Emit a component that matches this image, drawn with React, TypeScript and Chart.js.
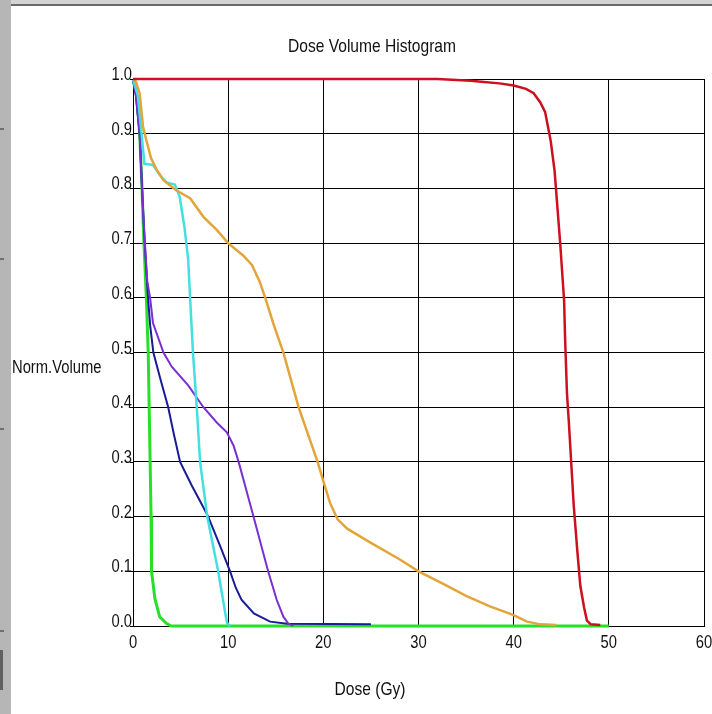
import React, { useEffect, useRef } from 'react';
import { Chart, registerables } from 'chart.js';

Chart.register(...registerables);

const chartTitle = 'Dose Volume Histogram';
const xTitle = 'Dose (Gy)';
const yTitle = 'Norm.Volume';
const xTickValues = [0, 10, 20, 30, 40, 50, 60];
const yTickValues = [0, 0.1, 0.2, 0.3, 0.4, 0.5, 0.6, 0.7, 0.8, 0.9, 1.0];

const redDose = [0, 32, 35.5, 36.6, 38.5, 40, 41.3, 42.1, 42.8, 43.3, 43.6, 43.9, 44.3, 44.6, 44.9, 45.3, 45.4, 45.6, 45.8, 45.96, 46.3, 46.7, 47.0, 47.4, 47.7, 48.1, 49.1];
const redVol = [1.0, 1.0, 0.997, 0.995, 0.992, 0.988, 0.982, 0.974, 0.957, 0.94, 0.913, 0.886, 0.832, 0.765, 0.697, 0.595, 0.528, 0.426, 0.372, 0.325, 0.223, 0.135, 0.074, 0.034, 0.01, 0.003, 0.002];

const orangeDose = [0, 0.3, 0.7, 1.05, 1.4, 1.9, 2.5, 3.2, 4.5, 6, 7.4, 8.8, 10, 11.6, 12.5, 13.3, 13.9, 14.8, 15.8, 16.6, 17.4, 18.4, 19.4, 20, 20.7, 21.5, 22.5, 25, 28, 30, 32.5, 35, 37.5, 40, 41.4, 42.8, 44.5];
const orangeVol = [1.0, 0.995, 0.974, 0.913, 0.888, 0.855, 0.834, 0.815, 0.797, 0.782, 0.748, 0.724, 0.70, 0.677, 0.66, 0.63, 0.60, 0.55, 0.50, 0.45, 0.40, 0.35, 0.30, 0.265, 0.225, 0.195, 0.178, 0.152, 0.122, 0.10, 0.078, 0.055, 0.036, 0.02, 0.008, 0.003, 0.002];

const cyanDose = [0, 0.5, 0.9, 1.2, 2.1, 2.8, 3.5, 4.4, 4.9, 5.4, 5.8, 6.0, 6.3, 6.7, 7.05, 7.8, 8.95, 9.7, 9.9, 10.2];
const cyanVol = [1.0, 0.97, 0.9, 0.845, 0.843, 0.825, 0.811, 0.807, 0.785, 0.73, 0.67, 0.6, 0.5, 0.4, 0.3, 0.2, 0.1, 0.023, 0.005, 0];

const purpleDose = [0, 0.3, 0.7, 1.0, 1.25, 1.5, 1.8, 2.1, 3.2, 4.07, 5.8, 7.4, 8.8, 9.86, 10.56, 11.1, 12.66, 14.2, 15.1, 15.8, 16.3, 16.8];
const purpleVol = [1.0, 0.97, 0.9, 0.78, 0.7, 0.63, 0.6, 0.554, 0.5, 0.474, 0.44, 0.4, 0.372, 0.354, 0.33, 0.3, 0.2, 0.1, 0.048, 0.017, 0.005, 0];

const navyDose = [0, 0.3, 0.7, 1.0, 1.23, 1.58, 1.8, 2.14, 2.9, 3.7, 4.3, 4.95, 6.2, 7.0, 7.9, 9.16, 10.2, 10.8, 11.4, 12.7, 14.4, 16.2, 25];
const navyVol = [1.0, 0.97, 0.9, 0.78, 0.7, 0.6, 0.55, 0.5, 0.45, 0.4, 0.35, 0.3, 0.256, 0.23, 0.2, 0.146, 0.1, 0.07, 0.048, 0.023, 0.008, 0.004, 0.003];

const greenDose = [0, 0.4, 0.7, 0.95, 1.15, 1.4, 1.6, 1.7, 1.8, 1.9, 1.95, 2.3, 2.8, 3.5, 4.0, 50];
const greenVol = [1.0, 0.97, 0.9, 0.8, 0.7, 0.6, 0.5, 0.4, 0.3, 0.2, 0.1, 0.05, 0.017, 0.005, 0, 0];

const seriesColors = ['#cc1020', '#e3a43a', '#44e0e0', '#7a30d0', '#1a1a9a', '#28e028'];

const FONT = '"Liberation Sans", Arial, sans-serif';
const NARROW = 0.82;

const toPoints = (xs: number[], ys: number[]) => xs.map((x, i) => ({ x, y: ys[i] }));

function narrowText(ctx: CanvasRenderingContext2D, text: string, x: number, y: number, size: number, align: CanvasTextAlign) {
  ctx.save();
  ctx.translate(x, y);
  ctx.scale(NARROW, 1);
  ctx.font = `${size}px ${FONT}`;
  ctx.textAlign = align;
  ctx.textBaseline = 'alphabetic';
  ctx.fillText(text, 0, 0);
  ctx.restore();
}

const textPlugin = {
  id: 'dvhText',
  afterDraw(chart: any) {
    const ctx = chart.ctx as CanvasRenderingContext2D;
    const xs = chart.scales.x;
    const ys = chart.scales.y;
    const area = chart.chartArea;
    ctx.save();
    ctx.fillStyle = '#111';
    ctx.strokeStyle = '#000';
    ctx.lineWidth = 1;
    narrowText(ctx, chartTitle, 372, 52, 19, 'center');
    narrowText(ctx, xTitle, 370, 695, 19, 'center');
    narrowText(ctx, yTitle, 12, 373, 18, 'left');
    yTickValues.forEach((v) => {
      const py = Math.round(ys.getPixelForValue(v));
      ctx.beginPath();
      ctx.moveTo(area.left - 3, py + 0.5);
      ctx.lineTo(area.left, py + 0.5);
      ctx.stroke();
      narrowText(ctx, v.toFixed(1), area.left - 1, py + 1, 18, 'right');
    });
    xTickValues.forEach((v) => {
      const px = xs.getPixelForValue(v);
      narrowText(ctx, String(v), px, area.bottom + 22, 18, 'center');
    });
    ctx.restore();
  },
};

export default function App() {
  const ref = useRef<HTMLCanvasElement>(null);
  useEffect(() => {
    if (!ref.current) return;
    const mk = (label: string, xs: number[], ys: number[], color: string, width: number) => ({
      label,
      data: toPoints(xs, ys),
      borderColor: color,
      backgroundColor: color,
      borderWidth: width,
      pointRadius: 0,
      showLine: true,
      tension: 0,
      fill: false,
      clip: 4,
    });
    const chart = new Chart(ref.current, {
      type: 'scatter',
      data: {
        datasets: [
          mk('PTV', redDose, redVol, seriesColors[0], 2.5),
          mk('Orange', orangeDose, orangeVol, seriesColors[1], 2.5),
          mk('Cyan', cyanDose, cyanVol, seriesColors[2], 2.5),
          mk('Purple', purpleDose, purpleVol, seriesColors[3], 2),
          mk('Navy', navyDose, navyVol, seriesColors[4], 2),
          mk('Green', greenDose, greenVol, seriesColors[5], 3),
        ],
      },
      options: {
        responsive: false,
        animation: false,
        devicePixelRatio: 1,
        layout: { padding: { top: 79, left: 0, right: 8, bottom: 58 } },
        plugins: {
          legend: { display: false },
          tooltip: { enabled: false },
          title: { display: false },
        },
        scales: {
          x: {
            type: 'linear',
            min: 0,
            max: 60,
            afterBuildTicks: (s: any) => { s.ticks = xTickValues.map((v) => ({ value: v })); },
            afterFit: (s: any) => { s.height = 30; },
            grid: { color: '#000', lineWidth: 1, drawTicks: false },
            border: { display: true, color: '#000', width: 1 },
            ticks: { display: false },
          },
          y: {
            type: 'linear',
            min: 0,
            max: 1,
            afterBuildTicks: (s: any) => { s.ticks = yTickValues.map((v) => ({ value: v })); },
            afterFit: (s: any) => { s.width = 133; },
            grid: { color: '#000', lineWidth: 1, drawTicks: false },
            border: { display: true, color: '#000', width: 1 },
            ticks: { display: false },
          },
        },
      },
      plugins: [textPlugin],
    });
    return () => chart.destroy();
  }, []);

  const marks = [128, 258, 428, 630];
  return (
    <div style={{ position: 'fixed', left: 0, top: 0, width: 712, height: 714, background: '#fff', overflow: 'hidden' }}>
      <div style={{ position: 'absolute', left: 0, top: 0, width: 11, height: 714, background: '#b6b6b6' }} />
      {marks.map((m) => (
        <div key={m} style={{ position: 'absolute', left: 0, top: m, width: 4, height: 2, background: '#707070' }} />
      ))}
      <div style={{ position: 'absolute', left: 0, top: 650, width: 3, height: 40, background: '#606060' }} />
      <div style={{ position: 'absolute', left: 11, top: 0, width: 701, height: 4, background: '#d4d4d4' }} />
      <div style={{ position: 'absolute', left: 11, top: 4, width: 701, height: 2, background: '#6a6a6a' }} />
      <canvas ref={ref} width={712} height={714} style={{ position: 'absolute', left: 0, top: 0, width: 712, height: 714 }} />
    </div>
  );
}
